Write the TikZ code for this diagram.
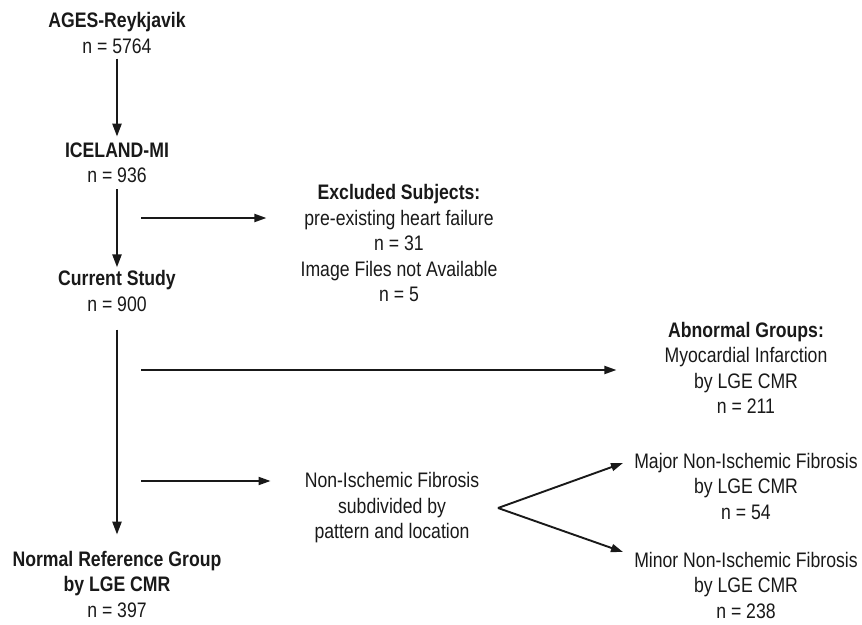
\documentclass[tikz,border=0pt]{standalone}
\usepackage{fontspec}
\setmainfont[FakeStretch=0.84]{Liberation Sans}
\usepackage{tikz}
\usetikzlibrary{arrows.meta,positioning,calc}
\usepackage{xcolor}
\definecolor{inkblack}{RGB}{25,25,25}

\begin{document}
\begin{tikzpicture}[x=1pt, y=-1pt,
  every node/.style={font=\fontsize{21}{25.5}\selectfont, text=inkblack, align=center, inner sep=0pt},
  flow/.style={-{Triangle[length=13pt,width=9pt]}, line width=2.4pt, inkblack},
  side/.style={-{Triangle[length=12pt,width=8pt]}, line width=1.9pt, inkblack}]
  \useasboundingbox (0,0) rectangle (862,624);
  % main column
  \node (ages) at (117,33) {\textbf{AGES-Reykjavik}\\ n = 5764};
  \node (iceland) at (117,163) {\textbf{ICELAND-MI}\\ n = 936};
  \node (current) at (117,291) {\textbf{Current Study}\\ n = 900};
  \node (normal) at (117,584) {\textbf{Normal Reference Group}\\ \textbf{by LGE CMR}\\ n = 397};
  % side boxes
  \node (excl) at (399,243) {\textbf{Excluded Subjects:}\\ pre-existing heart failure\\ n = 31\\ Image Files not Available\\ n = 5};
  \node (abnormal) at (746,368) {\textbf{Abnormal Groups:}\\ Myocardial Infarction\\ by LGE CMR\\ n = 211};
  \node (nif) at (392,508) {Non-Ischemic Fibrosis\\ subdivided by\\ pattern and location};
  \node (major) at (746,486) {Major Non-Ischemic Fibrosis\\ by LGE CMR\\ n = 54};
  \node (minor) at (746,585) {Minor Non-Ischemic Fibrosis\\ by LGE CMR\\ n = 238};
  % arrows
  \draw[flow, shorten <=5pt, shorten >=6pt] (ages) -- (iceland);
  \draw[flow, shorten <=6pt, shorten >=3pt] (iceland) -- (current);
  \draw[flow, shorten <=18pt, shorten >=16pt] (current) -- (normal);
  \coordinate (tapexcl) at (141,218);
  \coordinate (tapabn) at (141,370);
  \coordinate (tapnif) at (141,481);
  \draw[side] (tapexcl) -- ($(tapexcl -| excl.west)+(-34,0)$);
  \draw[side] (tapabn) -- ($(tapabn -| abnormal.west)+(-48,0)$);
  \draw[side] (tapnif) -- ($(tapnif -| nif.west)+(-34,0)$);
  \coordinate (fork) at (498,508);
  \coordinate (majorin) at (623,463);
  \coordinate (minorin) at (623,552);
  \draw[side] (fork) -- (majorin);
  \draw[side] (fork) -- (minorin);
\end{tikzpicture}
\end{document}
